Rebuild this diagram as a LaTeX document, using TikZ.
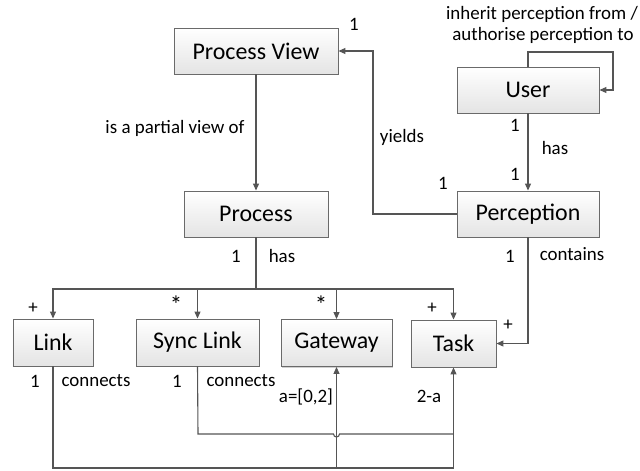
\documentclass[tikz,border=0pt]{standalone}
\usepackage{fontspec}
\setmainfont{Carlito}
\usetikzlibrary{arrows.meta,shadows}
\definecolor{edge}{HTML}{555555}
\definecolor{boxline}{HTML}{6A6A6A}
\definecolor{boxbot}{HTML}{E4E4E4}
\tikzset{
  entity/.style={draw=boxline, line width=0.9pt, top color=white, bottom color=boxbot,
    drop shadow={shadow xshift=1.2pt, shadow yshift=-1.2pt, fill=black, opacity=0.18},
    minimum height=46bp, inner sep=0pt, font=\fontsize{24}{26}\selectfont},
  conn/.style={draw=edge, line width=1.1pt},
  arr/.style={conn, -{Triangle[length=7pt, width=6pt]}},
  lbl/.style={inner sep=0pt, font=\fontsize{19}{22}\selectfont, text=black},
  star/.style={lbl, font=\fontsize{25}{26}\selectfont},
}
\begin{document}
\begin{tikzpicture}[x=1bp, y=-1bp]
\useasboundingbox (0,0) rectangle (640,471);

% classes
\node[entity, minimum width=164bp] (pv)   at (256,51)    {Process View};
\node[entity, minimum width=144bp] (proc) at (256,214)   {Process};
\node[entity, minimum width=142bp] (user) at (528,90)    {User};
\node[entity, minimum width=142bp] (perc) at (528,214)   {Perception};
\node[entity, minimum width=80bp, minimum height=47bp]  (link) at (53,342.5)  {Link};
\node[entity, minimum width=123bp, minimum height=47bp] (sync) at (197.5,342.5) {Sync Link};
\node[entity, minimum width=111bp, minimum height=47bp] (gw)   at (336.5,343) {Gateway};
\node[entity, minimum width=85bp, minimum height=47bp]  (task) at (453.5,343.5) {Task};

% routing points
\coordinate (loopA) at (528,52);
\coordinate (loopB) at (613,52);
\coordinate (loopC) at (613,90);
\coordinate (yieldBend) at (373,214);
\coordinate (bus) at (256,289);
\coordinate (lowRail) at (53,468);
\coordinate (gwFoot) at (336.5,468);
\coordinate (midRail) at (198,434);
\coordinate (hopL) at (333.5,434);
\coordinate (hopEnd) at (453.5,434);

% associations
\draw[arr] (pv.south) -- (proc.north);
\draw[arr] (user.north) -- (loopA) -- (loopB) -- (loopC) -- (user.east);
\draw[arr] (user.south) -- (perc.north);
\draw[arr] (perc.west) -- (yieldBend) |- (pv.east);
\draw[conn] (proc.south) -- (bus);
\draw[arr] (bus) -| (link.north);
\draw[arr] (bus) -| (sync.north);
\draw[arr] (bus) -| (gw.north);
\draw[arr] (bus) -| (task.north);
\draw[arr] (perc.south) |- (task.east);
\draw[arr] (link.south) -- (lowRail) -| (task.south);
\draw[arr] (gwFoot) -- (gw.south);
\draw[conn] (sync.south) -- (midRail) -- (hopL) arc[start angle=180, end angle=0, radius=3] -- (hopEnd);

% labels
\node[lbl] (l1) at (542,14) {inherit perception from /};
\node[lbl] (l2) at (543,35) {authorise perception to};
\node[lbl] (m1) at (354,24) {1};
\node[lbl] (m2) at (175,128) {is a partial view of};
\node[lbl] (m3) at (402,137) {yields};
\node[lbl] (m4) at (443,183) {1};
\node[lbl] (m5) at (515,125) {1};
\node[lbl] (m6) at (555,148) {has};
\node[lbl] (m7) at (515,174) {1};
\node[lbl] (m8) at (236,256) {1};
\node[lbl] (m9) at (282,256) {has};
\node[lbl] (m10) at (510,256) {1};
\node[lbl] (m11) at (572,254) {contains};
\node[lbl] (m12) at (33,308) {+};
\node[star] (m13) at (176,305) {*};
\node[star] (m14) at (321,305) {*};
\node[lbl] (m15) at (432,308) {+};
\node[lbl] (m16) at (508,325) {+};
\node[lbl] (m17) at (35,381) {1};
\node[lbl] (m18) at (96,381) {connects};
\node[lbl] (m19) at (177,381) {1};
\node[lbl] (m20) at (241,381) {connects};
\node[lbl] (m21) at (306,397) {a=[0,2]};
\node[lbl] (m22) at (429,396) {2-a};
\end{tikzpicture}
\end{document}
